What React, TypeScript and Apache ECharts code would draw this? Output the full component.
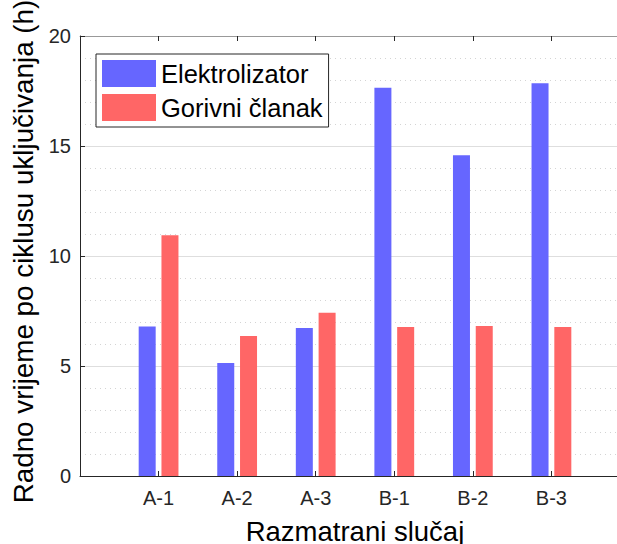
import React, { useEffect, useRef } from "react";
import * as echarts from "echarts";

const categories = ["A-1", "A-2", "A-3", "B-1", "B-2", "B-3"];
const elektrolizator = [6.79, 5.14, 6.73, 17.65, 14.58, 17.85];
const gorivniClanak = [10.94, 6.36, 7.42, 6.77, 6.82, 6.77];
const seriesNames = ["Elektrolizator", "Gorivni članak"];
const yTicks = { min: 0, max: 20, interval: 5 };

const FONT = "'Liberation Sans', Arial, Helvetica, sans-serif";
const AX = "#262626";

export default function App() {
  const ref = useRef<HTMLDivElement>(null);
  useEffect(() => {
    if (!ref.current) return;
    const chart = echarts.init(ref.current, undefined, { renderer: "svg" });
    const toPts = (arr: number[]) => arr.map((v, i) => [i + 1, v]);
    const xLabel = (v: number) => {
      const idx = Math.round(v) - 1;
      return idx >= 0 && idx < categories.length ? categories[idx] : "";
    };
    chart.setOption({
      animation: false,
      backgroundColor: "#ffffff",
      textStyle: { fontFamily: FONT },
      grid: {
        left: 80,
        right: -13,
        top: 36,
        bottom: 68,
        containLabel: false,
        outerBoundsMode: "none",
      },
      legend: {
        orient: "vertical",
        left: 96,
        top: 54,
        data: seriesNames,
        icon: "rect",
        itemWidth: 54,
        itemHeight: 27,
        itemGap: 7,
        padding: [6, 6, 6, 6],
        backgroundColor: "#ffffff",
        borderColor: AX,
        borderWidth: 1,
        borderRadius: 0,
        textStyle: { fontSize: 25.5, color: "#000", fontFamily: FONT },
      },
      xAxis: [
        {
          type: "value",
          min: 0,
          max: 7,
          interval: 1,
          name: "Razmatrani slučaj",
          nameLocation: "middle",
          nameGap: 41,
          nameTextStyle: { fontSize: 27.5, color: "#000", fontFamily: FONT },
          axisLine: { show: true, onZero: false, lineStyle: { color: AX, width: 1 } },
          axisTick: { show: true, inside: true, length: 5, lineStyle: { color: AX } },
          axisLabel: {
            formatter: xLabel,
            fontSize: 20,
            color: AX,
            margin: 12,
            fontFamily: FONT,
          },
          splitLine: { show: false },
        },
        {
          type: "value",
          position: "top",
          min: 0,
          max: 7,
          interval: 1,
          axisLine: { show: true, onZero: false, lineStyle: { color: "#999999", width: 1 } },
          axisTick: { show: true, inside: true, length: 5, lineStyle: { color: AX } },
          axisLabel: { show: false },
          splitLine: { show: false },
        },
      ],
      yAxis: {
        type: "value",
        min: yTicks.min,
        max: yTicks.max,
        interval: yTicks.interval,
        name: "Radno vrijeme po ciklusu uključivanja (h)",
        nameLocation: "middle",
        nameGap: 35,
        nameTextStyle: {
          fontSize: 27.8,
          color: "#000",
          fontFamily: FONT,
          padding: [0, 0, 0, 9],
        },
        axisLine: { show: true, lineStyle: { color: AX, width: 1 } },
        axisTick: { show: true, inside: true, length: 5, lineStyle: { color: AX } },
        axisLabel: { fontSize: 20, color: AX, margin: 9, fontFamily: FONT },
        splitLine: { show: true, lineStyle: { color: "#dedede", width: 1 } },
        minorTick: { show: false, splitNumber: 5 },
        minorSplitLine: {
          show: true,
          lineStyle: { color: "#d4d4d4", width: 1, type: [1, 4] },
        },
      },
      series: [
        {
          name: seriesNames[0],
          type: "bar",
          xAxisIndex: 0,
          data: toPts(elektrolizator),
          barWidth: 17,
          barGap: "34%",
          itemStyle: { color: "#6666ff" },
        },
        {
          name: seriesNames[1],
          type: "bar",
          xAxisIndex: 0,
          data: toPts(gorivniClanak),
          barWidth: 17,
          barGap: "34%",
          itemStyle: { color: "#ff6666" },
        },
      ],
    });
    return () => chart.dispose();
  }, []);
  return (
    <div
      ref={ref}
      style={{ position: "fixed", left: 0, top: 0, width: 617, height: 544 }}
    />
  );
}
